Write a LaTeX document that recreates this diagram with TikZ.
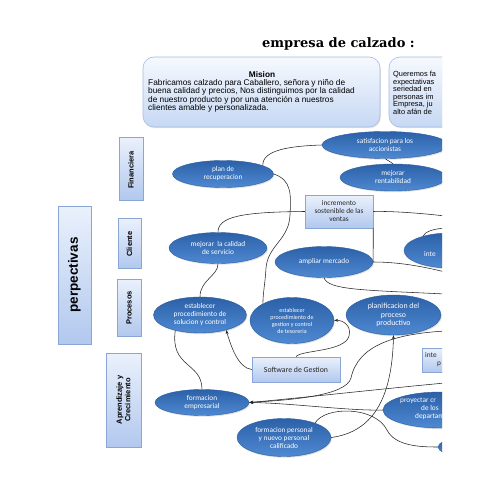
\documentclass[tikz,border=0pt]{standalone}
\usepackage{fontspec}
\setmainfont{Liberation Sans}
\newfontfamily\carlito{Carlito}
\newfontfamily\titlefont{DejaVu Serif}
\usetikzlibrary{shapes.geometric,shadows,arrows.meta}
\definecolor{ovtop}{HTML}{2C61A8}
\definecolor{ovbot}{HTML}{4E89D2}
\definecolor{ovline}{HTML}{2A5C9E}
\definecolor{bxtop}{HTML}{EAF1FC}
\definecolor{bxbot}{HTML}{B2C8EE}
\definecolor{bxline}{HTML}{8AA6D6}
\definecolor{mstop}{HTML}{F6F9FE}
\definecolor{msbot}{HTML}{C6D8F3}
\definecolor{msline}{HTML}{A3BDE5}
\tikzset{
  ov/.style={ellipse, draw=ovline, line width=0.4pt, top color=ovtop, bottom color=ovbot,
    text=white, font=\carlito\fontsize{7.3}{8}\selectfont, align=center, inner sep=0pt,
    drop shadow={opacity=0.25, shadow xshift=0.8pt, shadow yshift=-1.2pt}},
  bx/.style={rectangle, draw=bxline, line width=0.5pt, top color=bxtop, bottom color=bxbot,
    inner sep=0pt, drop shadow={opacity=0.2, shadow xshift=0.8pt, shadow yshift=-1pt}},
  bxtext/.style={font=\carlito\fontsize{7.3}{8}\selectfont, text=black!85, align=center},
  ptext/.style={rotate=90, font=\bfseries\fontsize{7.5}{8.5}\selectfont, align=center, inner sep=0pt},
  ms/.style={rectangle, rounded corners=11pt, draw=msline, line width=0.6pt, top color=mstop, bottom color=msbot,
    inner sep=0pt, drop shadow={opacity=0.2, shadow xshift=0.8pt, shadow yshift=-1.2pt}},
  con/.style={draw=black!85, line width=0.55pt},
  arr/.style={con, -{Stealth[length=4pt,width=3pt]}}
}
\begin{document}
\begin{tikzpicture}[x=1pt,y=-1pt]
\useasboundingbox[fill=white] (0,0) rectangle (495,495);
\begin{scope}
\clip (0,0) rectangle (442,495);
% title
\node[font=\titlefont\bfseries\fontsize{13}{14}\selectfont, anchor=base west, inner sep=0pt] (title) at (262,48) {empresa de calzado :};
% mission / vision boxes
\node[ms, minimum width=237pt, minimum height=70pt] (mision) at (261.5,92) {};
\node[font=\bfseries\fontsize{8.3}{9}\selectfont, inner sep=0pt] (misiont) at (262,75) {Mision};
\node[anchor=north west, align=left, font=\fontsize{8.3}{8.5}\selectfont, inner sep=0pt] (misiontxt) at (148,79)
 {Fabricamos calzado para Caballero, señora y niño de\\buena  calidad y precios, Nos distinguimos por la calidad\\de nuestro producto y por una atención a  nuestros\\clientes amable y personalizada.};
\node[ms, minimum width=90pt, minimum height=70pt] (vision) at (434,92) {};
\node[anchor=north west, align=left, font=\fontsize{7.4}{7.6}\selectfont, inner sep=0pt] (visiontxt) at (393,71)
 {Queremos fa\\expectativas\\seriedad en\\personas im\\Empresa, ju\\alto afán de};
% perspectives column
\node[bx, minimum width=33pt, minimum height=138pt] (persp) at (74.5,275) {};
\node[rotate=90, font=\bfseries\fontsize{13.5}{15}\selectfont, inner sep=0pt] (perspt) at (74.5,275) {perpectivas};
\node[bx, minimum width=24pt, minimum height=63pt] (fin) at (131,168.5) {};
\node[ptext] (fint) at (131,170) {Financiera};
\node[bx, minimum width=23pt, minimum height=50pt] (cli) at (129.5,243) {};
\node[ptext] (clit) at (129.5,244) {Cliente};
\node[bx, minimum width=24pt, minimum height=57pt] (pro) at (129,307.5) {};
\node[ptext] (prot) at (129,308) {Procesos};
\node[bx, minimum width=35pt, minimum height=94pt] (apr) at (123.5,400) {};
\node[ptext] (aprt) at (123.5,400) {Aprendizaje y\\Crecimiento};
% ellipses and boxes
\node[ov, minimum width=101pt, minimum height=27pt] (plan) at (223,174) {plan de\\recuperacion};
\node[ov, minimum width=126pt, minimum height=27pt] (satis) at (385,145) {satisfacion para los\\accionistas};
\node[ov, minimum width=106pt, minimum height=27pt] (rent) at (393,177.5) {mejorar\\rentabilidad};
\node[bx, minimum width=68pt, minimum height=33pt] (incr) at (339,211.5) {};
\node[bxtext] (incrt) at (339,211.5) {incremento\\sostenible de las\\ventas};
\node[ov, minimum width=98pt, minimum height=31pt] (cal) at (218,248) {mejorar\ \ la calidad\\de servicio};
\node[ov, minimum width=98pt, minimum height=31pt] (amp) at (324,262) {ampliar mercado};
\node[ov, minimum width=92pt, minimum height=35pt] (inte) at (450,250.5) {};
\node[anchor=west, text=white, font=\carlito\fontsize{7.3}{8}\selectfont, inner sep=0pt] (intet) at (424,254) {inte};
\node[ov, minimum width=93pt, minimum height=36pt] (sol) at (200,315) {establecer\\procedimiento de\\solucion y control};
\node[ov, minimum width=84pt, minimum height=46pt, font=\carlito\fontsize{6}{7}\selectfont] (ges) at (292,320.5) {establecer\\procedimiento de\\gestion y control\\de tesoreria};
\node[ov, minimum width=95pt, minimum height=40pt, font=\carlito\fontsize{7.8}{8.3}\selectfont] (plani) at (393.5,315) {planificacion del\\proceso\\productivo};
\node[bx, minimum width=88pt, minimum height=25pt] (soft) at (296,369.5) {};
\node[bxtext, font=\carlito\fontsize{7.8}{8}\selectfont] (softt) at (296,369.5) {Software de Gestion};
\node[bx, minimum width=58pt, minimum height=24pt] (integ) at (451,360) {};
\node[anchor=north west, align=left, font=\carlito\fontsize{7.3}{8}\selectfont, text=black!85, inner sep=0pt] (integt) at (425,352) {inte\\\hspace*{12pt}p};
\node[ov, minimum width=94pt, minimum height=26pt] (femp) at (202,402.5) {formacion\\empresarial};
\node[ov, minimum width=114pt, minimum height=36pt] (proy) at (440,410) {};
\node[anchor=north west, align=left, text=white, font=\carlito\fontsize{7.3}{7.6}\selectfont, inner sep=0pt] (proyt) at (400,398)
 {proyectar cr\\\hspace*{21pt}de los\\\hspace*{15pt}departame};
\node[ov, minimum width=94pt, minimum height=38pt] (fper) at (284,437.5) {formacion personal\\y nuevo personal\\calificado};
\node[ov, minimum width=44pt, minimum height=16pt] (small) at (460,447) {};
% free ends beyond the cut
\coordinate (cA) at (445,216);
\coordinate (cB) at (445,272);
\coordinate (cC) at (445,294);
\coordinate (cD) at (445,228);
\coordinate (cE) at (445,383);
\coordinate (cF) at (445,331);
% connectors
\draw[con] (plan.12) .. controls (262,150) and (290,146) .. (satis.west);
\draw[con] (satis.272) .. controls (387,161) and (391,161) .. (rent.north);
\draw[con] (plan.east) .. controls (292,180) and (291,195) .. (290,215) .. controls (289,240) and (268,245) .. (266,268) .. controls (265,285) and (263,292) .. (ges.150);
\draw[con] (cal.north) .. controls (218,217) and (240,212) .. (incr.west);
\draw[con] (incr.east) .. controls (390,211) and (420,213) .. (cA);
\draw[con] (incr.south east) -- (amp.east);
\draw[con] (amp.east) .. controls (400,262) and (425,267) .. (cB);
\draw[con] (cal.south) .. controls (218,276) and (200,280) .. (sol.north);
\draw[con] (amp.south) .. controls (328,290) and (362,290) .. (cC);
\draw[con] (inte.152) .. controls (425,232) and (432,229) .. (cD);
\draw[arr] (soft.west) .. controls (238,368) and (231,346) .. (sol.-30);
\draw[arr] (soft.north) .. controls (300,350) and (345,352) .. (349,336) .. controls (352,325) and (342,320) .. (ges.east);
\draw[con] (femp.north) .. controls (202,362) and (170,368) .. (sol.212);
\draw[arr] (proy.west) .. controls (350,411) and (290,403) .. (femp.east);
\draw[arr] (cE) .. controls (380,389) and (300,398) .. (femp.east);
\draw[arr] (cF) .. controls (395,334) and (358,345) .. (351,378) .. controls (346,396) and (290,400) .. (femp.east);
\draw[arr] (fper.east) .. controls (372,432) and (392,400) .. (plani.south);
\draw[con] (fper.25) .. controls (325,406) and (375,406) .. (387,430) .. controls (395,446) and (420,447) .. (small.west);
\end{scope}
\end{tikzpicture}
\end{document}
